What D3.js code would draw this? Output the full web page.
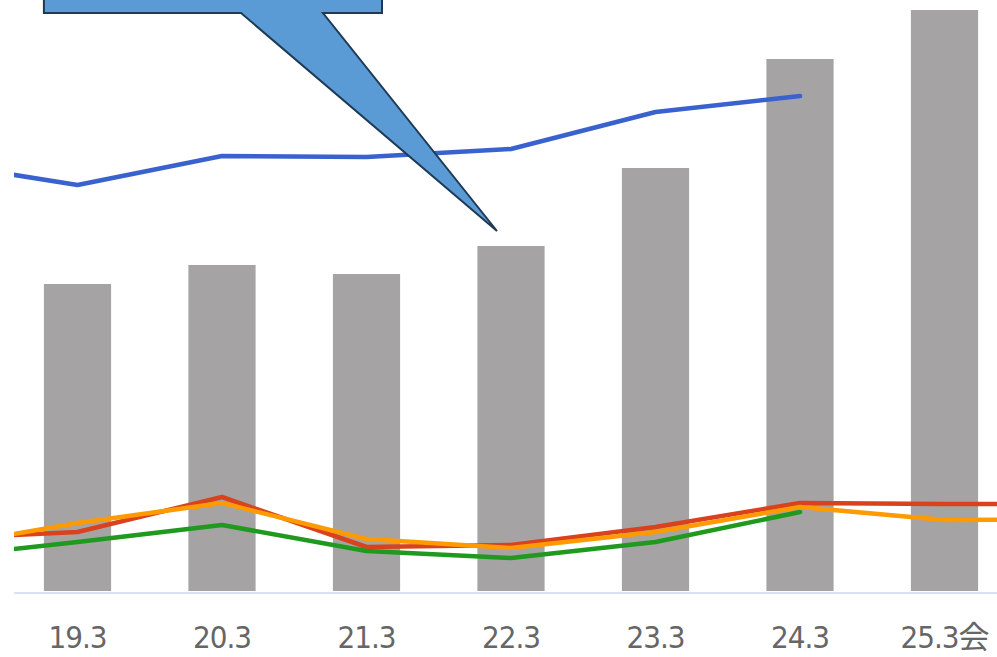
<!DOCTYPE html>
<html>
<head>
<meta charset="utf-8">
<script src="https://cdn.jsdelivr.net/npm/d3@7"></script>
<style>
  html, body { margin: 0; padding: 0; background: #fff; overflow: hidden; }
  .tick text { font-family: 'Liberation Sans Narrow', 'DejaVu Sans Condensed', 'Noto Sans CJK JP', sans-serif; }
</style>
</head>
<body>
<div id="chart"></div>
<script>
// categories (first and last sit outside the visible window, the lines run through them)
const categories = ['18.3', '19.3', '20.3', '21.3', '22.3', '23.3', '24.3', '25.3会', '26.3'];
const tickLabels = ['19.3', '20.3', '21.3', '22.3', '23.3', '24.3', '25.3会'];

// bar values (null = no bar)
const barValues = [null, 61.8, 65.6, 63.8, 69.4, 85.0, 106.8, 116.6, null];

// line series
const blueValues   = [86.2, 81.6, 87.4, 87.2, 88.8, 96.2, 99.4, null, null];
const redValues    = [10.8, 12.2, 19.2,  9.2,  9.6, 13.2, 18.0, 17.8, 17.8];
const orangeValues = [ 9.0, 14.0, 18.0, 10.8,  9.0, 12.2, 17.2, 14.6, 14.8];
const greenValues  = [ 7.0, 10.2, 13.6,  8.4,  7.0, 10.2, 16.2, null, null];

const W = 997, H = 657;
const plot = {left: 14, right: 997, top: 0, bottom: 593};

const svg = d3.select('#chart').append('svg')
  .attr('width', W)
  .attr('height', H);

//scales
const step = 144.5;
const x = d3.scaleBand()
  .domain(categories)
  .range([77.5 - step * 1.5, 77.5 - step * 1.5 + step * categories.length])
  .paddingInner(0.535)
  .paddingOuter(0.2675);

const y = d3.scaleLinear()
  .domain([0, 120])
  .range([plot.bottom, -7]);

const cx = c => x(c) + x.bandwidth() / 2;

svg.append('clipPath').attr('id', 'plotClip')
  .append('rect')
  .attr('x', plot.left).attr('y', plot.top)
  .attr('width', plot.right - plot.left).attr('height', plot.bottom - plot.top);

const g = svg.append('g').attr('clip-path', 'url(#plotClip)');

//bars
g.selectAll('rect.bar')
  .data(categories.map((c, i) => ({c, v: barValues[i]})).filter(d => d.v != null))
  .enter().append('rect')
  .attr('class', 'bar')
  .attr('x', d => x(d.c))
  .attr('width', x.bandwidth())
  .attr('y', d => y(d.v))
  .attr('height', d => y(0) - y(d.v) - 2)
  .attr('fill', '#a5a3a4');

//baseline
svg.append('line')
  .attr('x1', plot.left).attr('x2', plot.right)
  .attr('y1', plot.bottom).attr('y2', plot.bottom)
  .attr('stroke', '#d9e1f2')
  .attr('stroke-width', 2);

//lines
const series = [
  {values: redValues,    color: '#d9421c'},
  {values: greenValues,  color: '#1f9a1f'},
  {values: orangeValues, color: '#ff9a00'},
  {values: blueValues,   color: '#3a62cf'}
];

const lineGen = d3.line()
  .defined(d => d.v != null)
  .x(d => cx(d.c))
  .y(d => y(d.v));

series.forEach(s => {
  g.append('path')
    .datum(categories.map((c, i) => ({c, v: s.values[i]})))
    .attr('d', lineGen)
    .attr('fill', 'none')
    .attr('stroke', s.color)
    .attr('stroke-width', 4.5)
    .attr('stroke-linejoin', 'round')
    .attr('stroke-linecap', 'round');
});

//axis labels
const xAxis = svg.append('g')
  .attr('transform', `translate(0,${plot.bottom})`)
  .call(d3.axisBottom(x).tickValues(tickLabels).tickSize(0).tickPadding(33));
xAxis.select('.domain').remove();
xAxis.selectAll('text')
  .attr('fill', '#666666')
  .style('font-size', '31px')
  .style('letter-spacing', '-1px');

//callout shape pointing at the 22.3 bar
const tip = [cx('22.3') - 14, y(barValues[4]) - 15];
const boxLeft = x('19.3'), boxRight = 382, boxBottom = 13;
const callout = [
  [boxLeft, -60], [boxRight, -60], [boxRight, boxBottom],
  [323, boxBottom], tip, [241, boxBottom], [boxLeft, boxBottom]
];
svg.append('path')
  .attr('d', d3.line()(callout) + 'Z')
  .attr('fill', '#5b9bd5')
  .attr('stroke', '#1e3a56')
  .attr('stroke-width', 2)
  .attr('stroke-linejoin', 'miter');
</script>
</body>
</html>
